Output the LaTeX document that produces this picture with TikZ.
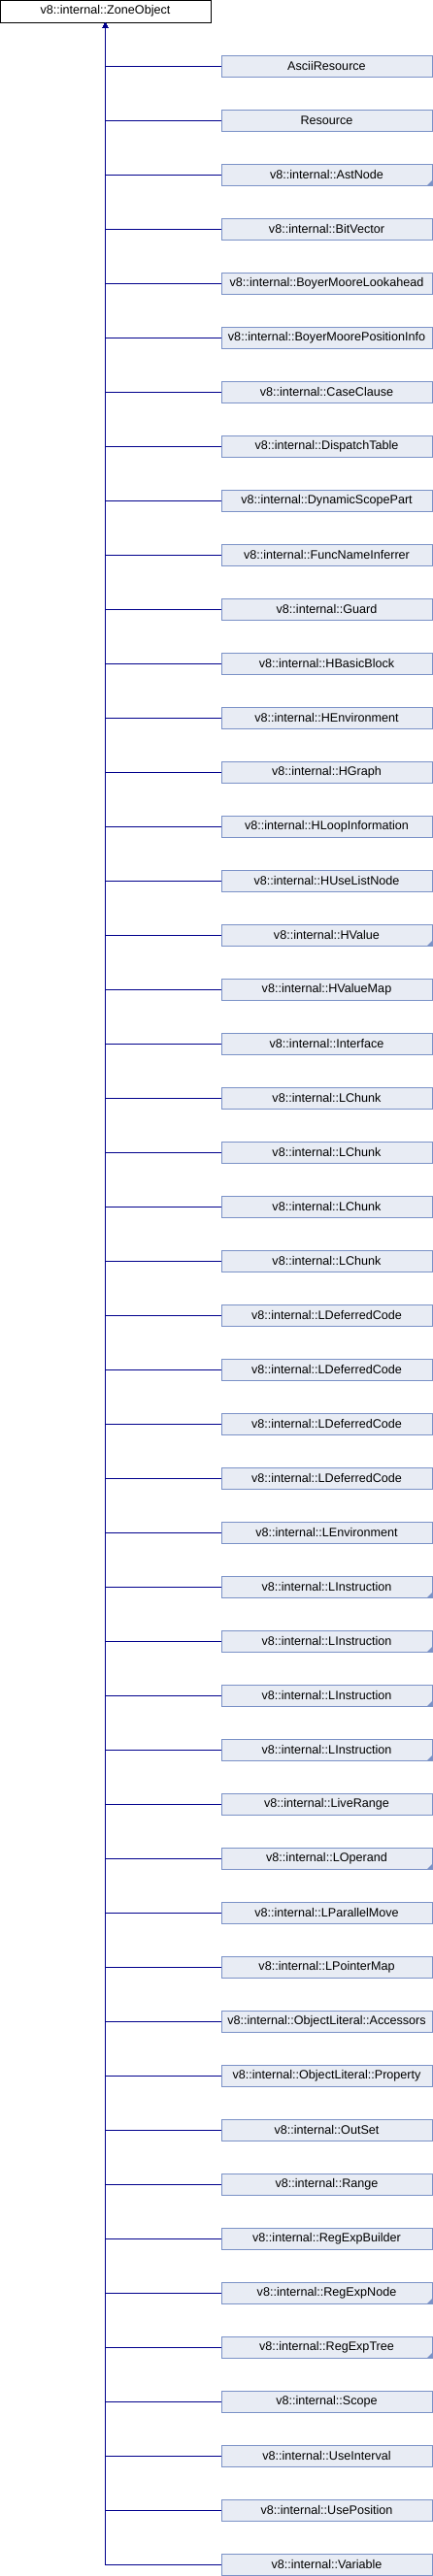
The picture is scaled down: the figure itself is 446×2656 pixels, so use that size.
\documentclass[tikz,border=0pt]{standalone}
\usepackage{fontspec}
\setmainfont{Liberation Sans}
\usepackage{xcolor}
\usetikzlibrary{arrows.meta, positioning}

\definecolor{boxfill}{RGB}{232,236,244}
\definecolor{boxline}{RGB}{123,146,199}
\definecolor{linkline}{RGB}{0,0,140}

\begin{document}
\begin{tikzpicture}[
    x=1pt, y=-1pt,
    font=\fontsize{12.6}{14}\selectfont,
    base/.style={draw, rectangle, line width=1pt, minimum height=23pt, minimum width=217pt, inner sep=0pt, align=center, fill=white},
    child/.style={draw=boxline, rectangle, line width=1pt, minimum height=22pt, minimum width=217pt, inner sep=0pt, align=center, fill=boxfill},
    more/.style={child, path picture={\fill[boxline] (path picture bounding box.south east) -- ++(-5pt,0) -- ++(5pt,5pt) -- cycle;}},
    link/.style={draw=linkline, line width=1pt, -{Triangle[width=5pt,length=5pt]}}
]
\useasboundingbox (0,0) rectangle (446,2656);

% Nodes
\node (zone) [base] at (108.5,11.5) {v8::internal::ZoneObject};

\foreach \name/\kind [count=\i] in {
    AsciiResource/child, Resource/child,
    v8::internal::AstNode/more, v8::internal::BitVector/child,
    v8::internal::BoyerMooreLookahead/child, v8::internal::BoyerMoorePositionInfo/child,
    v8::internal::CaseClause/child, v8::internal::DispatchTable/child,
    v8::internal::DynamicScopePart/child, v8::internal::FuncNameInferrer/child,
    v8::internal::Guard/child, v8::internal::HBasicBlock/child,
    v8::internal::HEnvironment/child, v8::internal::HGraph/child,
    v8::internal::HLoopInformation/child, v8::internal::HUseListNode/child,
    v8::internal::HValue/more, v8::internal::HValueMap/child,
    v8::internal::Interface/child,
    v8::internal::LChunk/child, v8::internal::LChunk/child,
    v8::internal::LChunk/child, v8::internal::LChunk/child,
    v8::internal::LDeferredCode/child, v8::internal::LDeferredCode/child,
    v8::internal::LDeferredCode/child, v8::internal::LDeferredCode/child,
    v8::internal::LEnvironment/child,
    v8::internal::LInstruction/more, v8::internal::LInstruction/more,
    v8::internal::LInstruction/more, v8::internal::LInstruction/more,
    v8::internal::LiveRange/child, v8::internal::LOperand/more,
    v8::internal::LParallelMove/child, v8::internal::LPointerMap/child,
    v8::internal::ObjectLiteral::Accessors/child, v8::internal::ObjectLiteral::Property/child,
    v8::internal::OutSet/child, v8::internal::Range/child,
    v8::internal::RegExpBuilder/child, v8::internal::RegExpNode/more,
    v8::internal::RegExpTree/more, v8::internal::Scope/child,
    v8::internal::UseInterval/child, v8::internal::UsePosition/child,
    v8::internal::Variable/child}
{
    \node (c\i) [\kind] at (336.5,{68+56*(\i-1)}) {\name};
}

% Arrows
\foreach \i in {1,...,47}
    \draw[link] (c\i.west) -| (zone.south);

\end{tikzpicture}
\end{document}
